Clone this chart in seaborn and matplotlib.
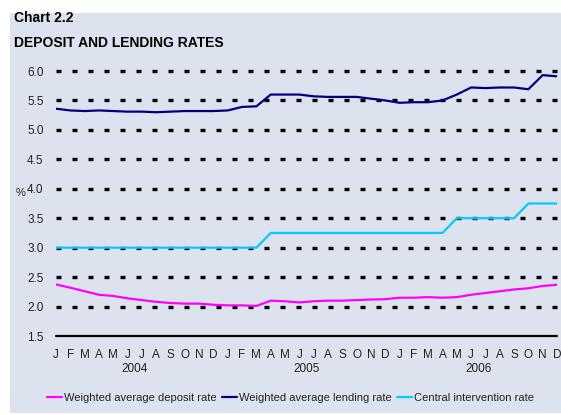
import matplotlib
matplotlib.use("Agg")
import matplotlib.pyplot as plt
from matplotlib.patches import Rectangle
from matplotlib.lines import Line2D
import matplotlib.transforms as mtransforms
import seaborn as sns
import pandas as pd

# ---- data ----
month_labels = ["J", "F", "M", "A", "M", "J", "J", "A", "S", "O", "N", "D"] * 3
years = ["2004", "2005", "2006"]
series_names = ["Weighted average deposit rate", "Weighted average lending rate",
                "Central intervention rate"]
deposit = [2.375, 2.32, 2.26, 2.20, 2.18, 2.14, 2.11, 2.08, 2.06, 2.05, 2.05, 2.03,
           2.02, 2.02, 2.01, 2.10, 2.09, 2.07, 2.09, 2.10, 2.10, 2.11, 2.12, 2.125,
           2.15, 2.15, 2.16, 2.15, 2.16, 2.20, 2.23, 2.26, 2.29, 2.31, 2.35, 2.37]
lending = [5.36, 5.33, 5.32, 5.33, 5.32, 5.31, 5.31, 5.30, 5.31, 5.32, 5.32, 5.32,
           5.33, 5.39, 5.40, 5.60, 5.60, 5.60, 5.57, 5.56, 5.56, 5.56, 5.53, 5.50,
           5.46, 5.47, 5.47, 5.50, 5.60, 5.72, 5.71, 5.72, 5.72, 5.69, 5.93, 5.91]
central = [3.0, 3.0, 3.0, 3.0, 3.0, 3.0, 3.0, 3.0, 3.0, 3.0, 3.0, 3.0,
           3.0, 3.0, 3.0, 3.25, 3.25, 3.25, 3.25, 3.25, 3.25, 3.25, 3.25, 3.25,
           3.25, 3.25, 3.25, 3.25, 3.5, 3.5, 3.5, 3.5, 3.5, 3.75, 3.75, 3.75]
yticks = [1.5, 2.0, 2.5, 3.0, 3.5, 4.0, 4.5, 5.0, 5.5, 6.0]
colors = ["#FF00FF", "#000080", "#00CCFF"]

n = len(month_labels)
df = pd.DataFrame({
    "month": list(range(n)) * 3,
    "value": deposit + lending + central,
    "series": [series_names[0]] * n + [series_names[1]] * n + [series_names[2]] * n,
})

sns.set_theme(style="white")
plt.rcParams["font.family"] = ["Liberation Sans", "DejaVu Sans"]

W, H = 561, 415
fig = plt.figure(figsize=(W / 100, H / 100), dpi=100)
fig.patch.set_facecolor("white")
fig.patches.append(Rectangle((10 / W, 2 / H), (W - 10) / W, (H - 15) / H,
                             transform=fig.transFigure, facecolor="#DDE3EE",
                             edgecolor="none", zorder=-10))

x0, x1 = 56, 557
ytop, ybot = 71, 336
ax = fig.add_axes([x0 / W, 1 - ybot / H, (x1 - x0) / W, (ybot - ytop) / H])
ax.set_zorder(5)
ax.set_facecolor("none")
ax.patch.set_alpha(0)

# dotted grid lines
for yv in yticks[1:]:
    ax.axhline(yv, color="black", lw=2.4, dashes=(1.5, 3.3), dash_capstyle="butt",
               clip_on=False, zorder=1)
ax.axhline(1.5, color="black", lw=1.6, clip_on=False, zorder=1)

sns.lineplot(data=df, x="month", y="value", hue="series", palette=colors,
             hue_order=series_names, ax=ax, linewidth=1.6, legend=False, zorder=3)
ax.set_xlim(0, n - 1)
ax.set_ylim(1.5, 6.0)

for s in ax.spines.values():
    s.set_visible(False)

ax.set_yticks(yticks)
ax.set_yticklabels([f"{v:.1f}" for v in yticks], fontsize=8.5, color="#222222")
ax.set_xticks(range(n))
ax.set_xticklabels(month_labels, fontsize=8.5, color="#222222")
ax.tick_params(axis="both", length=0)
ax.tick_params(axis="y", pad=9)
ax.tick_params(axis="x", pad=9)
ax.set_xlabel("")
ax.set_ylabel("")

fig.text(21 / W, 1 - 193 / H, "%", fontsize=8, ha="center", va="center", color="#222222")

trans = mtransforms.blended_transform_factory(ax.transData, fig.transFigure)
for i, yr in enumerate(years):
    ax.text(i * 12 + 5.5, 1 - 369 / H, yr, transform=trans, ha="center", va="center",
            fontsize=8.5, color="#222222")

fig.text(14 / W, 1 - 18 / H, "Chart 2.2", fontsize=10, fontweight="bold",
         ha="left", va="center", color="black")
fig.text(14 / W, 1 - 43 / H, "DEPOSIT AND LENDING RATES", fontsize=10,
         fontweight="bold", ha="left", va="center", color="black")

handles = [Line2D([0], [0], color=c, lw=1.6) for c in colors]
leg = fig.legend(handles, series_names, loc="center", bbox_to_anchor=(0.518, 1 - 398 / H),
                 ncol=3, frameon=False, fontsize=8, handlelength=1.3, handletextpad=0.2,
                 columnspacing=0.5)
for t in leg.get_texts():
    t.set_color("#222222")

fig.savefig("out.png", dpi=100)
